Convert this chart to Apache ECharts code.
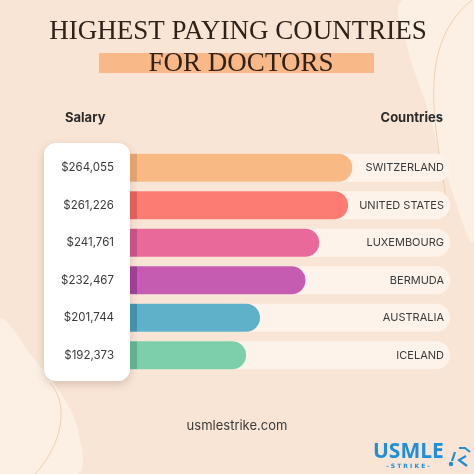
<!DOCTYPE html>
<html>
<head>
<meta charset="utf-8">
<script src="https://cdn.jsdelivr.net/npm/echarts@6/dist/echarts.min.js"></script>
<style>html,body{margin:0;padding:0;background:#f9e5d5;}#c{width:474px;height:474px;}</style>
</head>
<body>
<div id="c"></div>
<script>
const countries = ['SWITZERLAND','UNITED STATES','LUXEMBOURG','BERMUDA','AUSTRALIA','ICELAND'];
const salaries = [264055, 261226, 241761, 232467, 201744, 192373];
const salaryLabels = salaries.map(v => '$' + v.toLocaleString('en-US'));
const barColors = ['#f8b985','#fc7b72','#e9699a','#c65cb1','#5fb1c9','#7ccfaa'];
const stripColors = ['#e2a170','#e2605a','#c85282','#9f3f95','#4391ad','#5fb28d'];
const axisMin = 114000, axisMax = 330000;

const chart = echarts.init(document.getElementById('c'), null, {renderer:'canvas'});
const titleColor = '#2f2219';
chart.setOption({
  backgroundColor: '#f9e5d5',
  animation: false,
  grid: {left: 130, right: 24, top: 149, height: 225, containLabel: false},
  xAxis: {type:'value', min: axisMin, max: axisMax, show: false},
  yAxis: [
    {type:'category', data: salaryLabels, inverse: true, position:'left', z: 10,
     axisLine:{show:false}, axisTick:{show:false}, splitLine:{show:false},
     axisLabel:{margin: 16, color:'#3a3a3a', fontSize: 11.5, fontFamily:'Inter'}},
    {type:'category', data: countries, inverse: true, position:'right', z: 10,
     axisLine:{show:false}, axisTick:{show:false}, splitLine:{show:false},
     axisLabel:{inside:true, margin: 6, color:'#3a3a3a', fontSize: 11, fontFamily:'Inter'}}
  ],
  series: [
    {type:'bar', name:'track', silent:true, barWidth: 28, barGap:'-100%',
     data: countries.map(() => axisMax),
     itemStyle:{color:'#fdf3ea', borderRadius:[0,14,14,0]}, z: 1},
    {type:'bar', name:'salary', barWidth: 28,
     data: salaries.map((v,i) => ({value: v, itemStyle: {
        borderRadius:[0,14,14,0],
        color: new echarts.graphic.LinearGradient(130, 0, 137, 0,
          [{offset:0,color:stripColors[i]},{offset:0.99,color:stripColors[i]},{offset:1,color:barColors[i]}], true)
     }})), z: 2}
  ],
  graphic: [
    {type:'polygon', z:-10, shape:{smooth:0.4, points:[[474,0],[402,0],[408,50],[428,110],[445,170],[474,240]]}, style:{fill:'#fcefe4'}},
    {type:'bezierCurve', z:-9, shape:{x1:472,y1:0,cpx1:410,cpy1:50,cpx2:440,cpy2:140,x2:448,y2:215}, style:{fill:null, stroke:'#e8c9a0', lineWidth:0.8}},
    {type:'polygon', z:-10, shape:{smooth:0.35, points:[[0,320],[35,360],[62,395],[78,430],[78,474],[0,474]]}, style:{fill:'#fcefe4'}},
    {type:'bezierCurve', z:-9, shape:{x1:35,y1:474,cpx1:62,cpy1:445,cpx2:70,cpy2:405,x2:50,y2:383}, style:{fill:null, stroke:'#e8c9a0', lineWidth:0.8}},
    {type:'rect', z:-5, shape:{x:44, y:143, width:86, height:238, r:12},
     style:{fill:'#ffffff', shadowBlur:8, shadowColor:'rgba(90,60,40,0.22)', shadowOffsetY:3}},
    {type:'text', x:238, y:32, style:{text:'HIGHEST PAYING COUNTRIES', fill:titleColor, font:'27px "Liberation Serif"', textAlign:'center', textVerticalAlign:'middle'}},
    {type:'rect', shape:{x:99, y:53, width:275, height:20}, style:{fill:'#f8b888'}},
    {type:'text', x:241, y:64, z:2, style:{text:'FOR DOCTORS', fill:titleColor, font:'27px "Liberation Serif"', textAlign:'center', textVerticalAlign:'middle'}},
    {type:'text', x:65, y:118, style:{text:'Salary', fill:'#2a2a2a', font:'bold 13px Inter', textAlign:'left', textVerticalAlign:'middle'}},
    {type:'text', x:443, y:118, style:{text:'Countries', fill:'#2a2a2a', font:'bold 13px Inter', textAlign:'right', textVerticalAlign:'middle'}},
    {type:'text', x:237, y:426, style:{text:'usmlestrike.com', fill:'#3a3a3a', font:'13px Inter', textAlign:'center', textVerticalAlign:'middle'}},
    {type:'text', x:373, y:452, style:{text:'USMLE', fill:'#1f8fd6', font:'bold 21px "Open Sans"', textAlign:'left', textVerticalAlign:'middle'}},
    {type:'text', x:408, y:466, style:{text:'- S T R I K E -', fill:'#1f8fd6', font:'bold 6px "DejaVu Sans"', textAlign:'center', textVerticalAlign:'middle'}},
    {type:'circle', shape:{cx:451, cy:464, r:2.2}, style:{fill:'#1f8fd6'}},
    {type:'polyline', shape:{points:[[455,452],[452,461]]}, style:{stroke:'#1f8fd6', lineWidth:2.2}},
    {type:'polyline', shape:{points:[[466,456],[459,460],[467,466]]}, style:{stroke:'#1f8fd6', lineWidth:2.2}},
    {type:'polyline', shape:{points:[[459,448],[465,448],[470,452]]}, style:{stroke:'#1f8fd6', lineWidth:2}}
  ]
});
</script>
</body>
</html>
